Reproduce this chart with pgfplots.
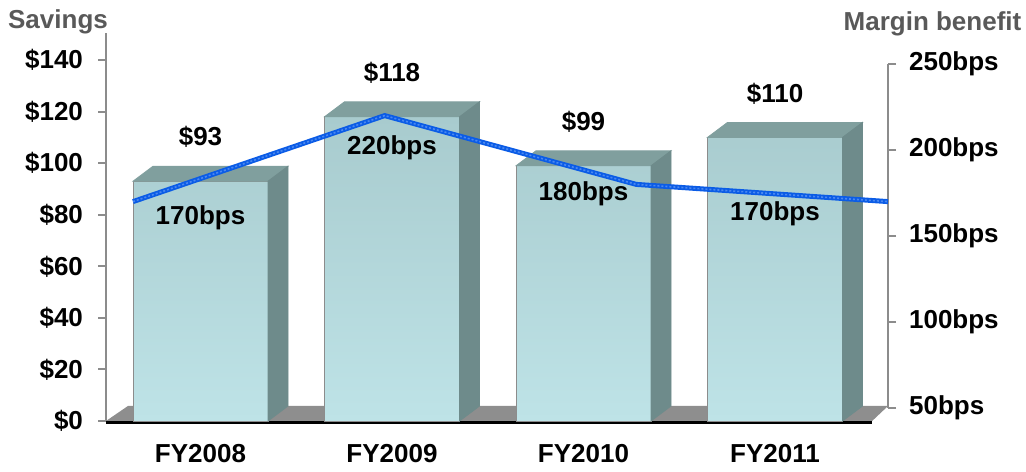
\documentclass[border=0pt]{standalone}
\usepackage{pgfplots}
\usepackage{pgfplotstable}
\pgfplotsset{compat=1.18}
\usepackage{fontspec}
\setmainfont{Liberation Sans}
\definecolor{frontTop}{HTML}{A8CBCE}
\definecolor{frontBot}{HTML}{BEE3E7}
\definecolor{topFace}{HTML}{809F9E}
\definecolor{sideFace}{HTML}{6E8B8B}
\definecolor{floorGray}{HTML}{8E8E8E}
\definecolor{axisGray}{HTML}{8C8C8C}
\definecolor{lineBlue}{HTML}{0B5CE6}
\definecolor{lineLight}{HTML}{4A88F0}
\definecolor{titleGray}{HTML}{595959}
\pgfdeclareplotmark{nothing}{}
\pgfplotstableread{
x v
0 93
1 118
2 99
3 110
}\savings
\pgfplotstableread{
x m
0 170
1 220
2 180
3 170
}\margin
\begin{document}
\begin{tikzpicture}[font=\fontsize{13}{15}\selectfont\bfseries]
\useasboundingbox (0,0) rectangle (513pt,235.5pt);
\begin{axis}[
  at={(53pt,25pt)}, anchor=south west,
  scale only axis, width=391pt, height=194pt,
  xmin=-0.4935, xmax=3.590, ymin=0, ymax=150.5,
  axis y line*=left, axis x line*=bottom,
  x axis line style={draw=none},
  y axis line style={draw=axisGray, line width=1pt},
  ytick={0,20,...,140},
  yticklabels={\$0,\$20,\$40,\$60,\$80,\$100,\$120,\$140},
  xtick={0,1,2,3},
  xticklabels={FY2008,FY2009,FY2010,FY2011},
  tick align=outside,
  y tick style={draw=axisGray, line width=1pt},
  major tick length=4pt,
  x tick style={draw=none},
  xticklabel style={yshift=-4pt},
  yticklabel style={xshift=-4pt},
  clip=false,
  /pgf/number format/assume math mode=true,
]
\fill[floorGray] (axis cs:-0.4935,0) -- (axis cs:3.507,0) -- (axis cs:3.590,5.82) -- (axis cs:-0.379,5.82) -- cycle;
\draw[black, line width=1.5pt, yshift=-0.75pt] (axis cs:-0.4935,0) -- (axis cs:3.507,0);
\addplot[ybar, bar width=67.5pt, draw=axisGray, line width=0.5pt, top color=frontTop, bottom color=frontBot,
  nodes near coords={\$\pgfmathprintnumber{\pgfplotspointmeta}},
  every node near coord/.style={anchor=center, yshift=22pt, text=black},
] table[x=x,y=v] {\savings};
\addplot[scatter, only marks, mark=nothing, point meta=y,
  visualization depends on={rawy\as\barval},
  scatter/@pre marker code/.code={%
    \pgfkeys{/pgf/fpu=true,/pgf/fpu/output format=fixed}%
    \pgfmathsetmacro\hb{7.5-\barval*1.28904}%
    \pgfmathsetmacro\hf{-\barval*1.28904}%
    \pgfkeys{/pgf/fpu=false}%
    \fill[topFace] (-33.75pt,0pt) -- (-23.75pt,7.5pt) -- (43.75pt,7.5pt) -- (33.75pt,0pt) -- cycle;
    \fill[sideFace] (33.75pt,0pt) -- (43.75pt,7.5pt) -- (43.75pt,\hb pt) -- (33.75pt,\hf pt) -- cycle;
  },
  scatter/@post marker code/.code={},
] table[x=x,y=v] {\savings};
\node at (axis cs:0,78.7) {170bps};
\node at (axis cs:1,105.9) {220bps};
\node at (axis cs:2,88.0) {180bps};
\node at (axis cs:3,80.3) {170bps};
\end{axis}
\begin{axis}[
  at={(53pt,31.5pt)}, anchor=south west,
  scale only axis, width=391pt, height=172pt,
  xmin=-0.1073, xmax=3, ymin=50, ymax=250,
  axis y line*=right, axis x line=none,
  y axis line style={draw=axisGray, line width=1pt},
  ytick={50,100,...,250},
  yticklabels={50bps,100bps,150bps,200bps,250bps},
  tick align=outside,
  y tick style={draw=axisGray, line width=1pt},
  major tick length=4pt,
  yticklabel style={xshift=3pt},
  clip=false,
]
\addplot[lineBlue, line width=2.5pt, no marks] table[x=x,y=m] {\margin};
\addplot[lineLight, line width=0.8pt, no marks, dash pattern=on 1pt off 1pt] table[x=x,y=m] {\margin};
\end{axis}
\node[text=titleGray, anchor=base] at (29pt,221pt) {Savings};
\node[text=titleGray, anchor=base] at (466.25pt,220pt) {Margin benefit};
\end{tikzpicture}
\end{document}
